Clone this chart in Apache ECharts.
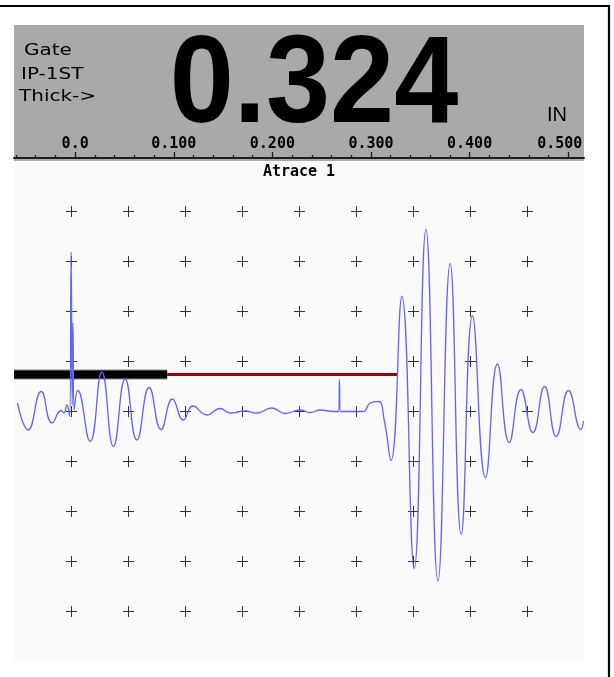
<!DOCTYPE html>
<html>
<head>
<meta charset="utf-8">
<script src="https://cdn.jsdelivr.net/npm/echarts@6/dist/echarts.min.js"></script>
<style>
  html, body { margin: 0; padding: 0; background: #fff; }
  #chart { width: 614px; height: 677px; }
</style>
</head>
<body>
<div id="chart"></div>
<script>
// A-scan trace: sound path position (inches) and amplitude (% full screen height)
const traceX = [-0.0585, -0.0477, -0.0345, -0.0233, -0.0142, -0.0112, -0.0084, -0.0056, -0.0041, -0.0030,
  -0.0022, -0.0010, 0.0027, 0.0152, 0.0271, 0.0388, 0.0507, 0.0626, 0.0751, 0.0872,
  0.0987, 0.1098, 0.1194, 0.1336, 0.1471, 0.1572, 0.1724, 0.1843, 0.1995, 0.2130,
  0.2282, 0.2383, 0.2485, 0.2617, 0.2675, 0.2680, 0.2691, 0.2789, 0.2921, 0.2992,
  0.3076, 0.3134, 0.3202, 0.3313, 0.3438, 0.3557, 0.3679, 0.3803, 0.3915, 0.4029,
  0.4161, 0.4283, 0.4402, 0.4520, 0.4642, 0.4760, 0.4878, 0.5003, 0.5129, 0.5155];
const traceAmp = [51.6, 46.2, 53.9, 47.6, 50.1, 49.6, 51.2, 48.9, 81.8, 51.2,
  67.6, 50.2, 54.1, 43.9, 57.8, 42.9, 56.4, 44.2, 54.7, 46.3,
  52.4, 48.2, 51.0, 49.2, 50.5, 49.6, 50.0, 49.6, 50.6, 49.5,
  50.2, 49.7, 50.2, 49.9, 49.9, 56.3, 49.9, 49.9, 49.9, 51.6,
  51.9, 48.2, 40.1, 72.9, 18.5, 86.3, 16.0, 79.5, 25.3, 69.0,
  36.7, 59.4, 43.7, 54.3, 45.7, 54.9, 44.9, 54.1, 46.3, 48.0];

// Gates (start / end in inches, level in % FSH)
const ipGate = [-0.062, 0.0933];
const measGate = [0.0933, 0.3266];
const gateLevel = 57.3;

// Thickness reading
const thickness = 0.324;
const headerLines = ['Gate', 'IP-1ST', 'Thick->'];
const unitLabel = 'IN';
const traceTitle = 'Atrace 1';

// Range ruler
const rangeMin = -0.062;
const rangeMax = 0.516;
const rulerMajor = [0, 0.1, 0.2, 0.3, 0.4, 0.5];
const rulerLabels = ['0.0', '0.100', '0.200', '0.300', '0.400', '0.500'];
const rulerMinor = [-0.06, -0.04, -0.02, 0.02, 0.04, 0.06, 0.08, 0.12, 0.14, 0.16, 0.18,
  0.22, 0.24, 0.26, 0.28, 0.32, 0.34, 0.36, 0.38, 0.42, 0.44, 0.46, 0.48];

// Graticule crosses (screen divisions, 10 x 10)
const gratCols = [1, 2, 3, 4, 5, 6, 7, 8, 9];
const gratRows = [1, 2, 3, 4, 5, 6, 7, 8, 9];

const traceData = traceX.map((x, i) => [x, traceAmp[i]]);
const gratData = [];
gratCols.forEach(c => gratRows.forEach(r => gratData.push([c, r])));

const chart = echarts.init(document.getElementById('chart'), null, { renderer: 'canvas' });

const monoFont = 'DejaVu Sans Mono';

chart.setOption({
  animation: false,
  backgroundColor: '#ffffff',
  grid: [
    { left: 14, width: 570, top: 161, height: 500, show: true, backgroundColor: '#fafafa', borderWidth: 0 },
    { left: 14, width: 570, top: 25, height: 133, show: false }
  ],
  xAxis: [
    { gridIndex: 0, type: 'value', min: rangeMin, max: rangeMax, show: false },
    { gridIndex: 0, type: 'value', min: 0, max: 10, show: false },
    {
      gridIndex: 1, type: 'value', min: rangeMin, max: rangeMax, position: 'bottom', offset: 0,
      axisLine: { show: true, lineStyle: { color: '#1e1e1e', width: 2 } },
      axisTick: { show: true, inside: true, length: 6, customValues: rulerMajor, lineStyle: { color: '#1e1e1e', width: 1.3 } },
      axisLabel: {
        show: true, inside: true, margin: 6, customValues: rulerMajor,
        fontFamily: monoFont, fontWeight: 'bold', fontSize: 15, color: '#000',
        formatter: function (v) {
          const i = rulerMajor.indexOf(v);
          const t = i >= 0 ? rulerLabels[i] : '';
          return v === rulerMajor[rulerMajor.length - 1] ? '{edge|' + t + '}' : t;
        },
        rich: { edge: { fontFamily: monoFont, fontWeight: 'bold', fontSize: 15, color: '#000', padding: [0, 17, 0, 0] } }
      },
      splitLine: { show: false }
    },
    {
      gridIndex: 1, type: 'value', min: rangeMin, max: rangeMax, position: 'bottom', offset: 0,
      axisLine: { show: false },
      axisTick: { show: true, inside: true, length: 3, customValues: rulerMinor, lineStyle: { color: '#1e1e1e', width: 1.3 } },
      axisLabel: { show: false },
      splitLine: { show: false }
    }
  ],
  yAxis: [
    { gridIndex: 0, type: 'value', min: 0, max: 100, show: false },
    { gridIndex: 0, type: 'value', min: 0, max: 10, show: false },
    { gridIndex: 1, type: 'value', min: 0, max: 1, show: false }
  ],
  graphic: [
    { type: 'rect', z: -1, shape: { x: 14, y: 25, width: 570, height: 137 }, style: { fill: '#a9a9a9' } },
    { type: 'rect', z: 10, shape: { x: -3, y: 6, width: 612, height: 700 }, style: { fill: 'none', stroke: '#000', lineWidth: 2.2 } },
    { type: 'text', x: 24, y: 51, scaleX: 1.25, style: { text: headerLines[0], font: '16px "DejaVu Sans"', fill: '#000', align: 'left', verticalAlign: 'middle' } },
    { type: 'text', x: 21, y: 75, scaleX: 1.25, style: { text: headerLines[1], font: '16px "DejaVu Sans"', fill: '#000', align: 'left', verticalAlign: 'middle' } },
    { type: 'text', x: 19, y: 97, scaleX: 1.25, style: { text: headerLines[2], font: '16px "DejaVu Sans"', fill: '#000', align: 'left', verticalAlign: 'middle' } },
    { type: 'text', x: 314, y: 88, scaleX: 0.93, style: { text: thickness.toFixed(3), font: 'bold 124px "Liberation Sans"', fill: '#000', align: 'center', verticalAlign: 'middle' } },
    { type: 'text', x: 557, y: 115, style: { text: unitLabel, font: '20px "Liberation Sans"', fill: '#000', align: 'center', verticalAlign: 'middle' } },
    { type: 'text', x: 299, y: 172, style: { text: traceTitle, font: 'bold 15px "DejaVu Sans Mono"', fill: '#000', align: 'center', verticalAlign: 'middle' } }
  ],
  series: [
    {
      type: 'scatter', xAxisIndex: 1, yAxisIndex: 1, data: gratData, silent: true, z: 1,
      symbol: 'path://M5 0H6V5H11V6H6V11H5V6H0V5H5Z', symbolSize: 11, symbolOffset: [0.5, 0.5],
      itemStyle: { color: '#000' }
    },
    {
      type: 'line', xAxisIndex: 0, yAxisIndex: 0, silent: true, symbol: 'none', z: 3,
      data: [[ipGate[0], gateLevel], [ipGate[1], gateLevel]],
      lineStyle: { color: '#8a8a8a', width: 10, cap: 'butt' }
    },
    {
      type: 'line', xAxisIndex: 0, yAxisIndex: 0, silent: true, symbol: 'none', z: 3,
      data: [[ipGate[0], gateLevel], [ipGate[1], gateLevel]],
      lineStyle: { color: '#000', width: 8, cap: 'butt' }
    },
    {
      type: 'line', xAxisIndex: 0, yAxisIndex: 0, silent: true, symbol: 'none', z: 3,
      data: [[measGate[0], gateLevel], [measGate[1], gateLevel]],
      lineStyle: { color: '#a30000', width: 3, cap: 'butt' }
    },
    {
      type: 'line', xAxisIndex: 0, yAxisIndex: 0, silent: true, symbol: 'none', z: 4,
      data: traceData, smooth: 0.5,
      lineStyle: { color: '#6262ff', width: 1.3 }
    }
  ]
});
</script>
</body>
</html>
